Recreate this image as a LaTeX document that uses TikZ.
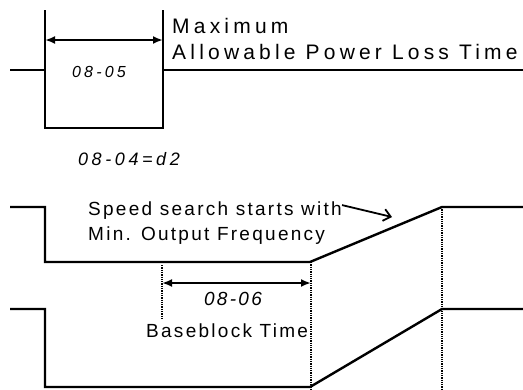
\documentclass[tikz,border=0pt]{standalone}
\usepackage{fontspec}
\setmainfont{Liberation Sans}
\newfontfamily\spacedsans[LetterSpace=12]{Liberation Sans}
\newfontfamily\widesans[LetterSpace=20]{Liberation Sans}
\usepackage{tikz}
\usetikzlibrary{arrows.meta}

\begin{document}
\begin{tikzpicture}[
  x=1pt, y=-1pt,
  sig/.style={line width=2.4pt, line join=miter},
  dim/.style={{Latex[length=10pt,width=8pt]}-{Latex[length=10pt,width=8pt]}, line width=2.6pt},
  guide/.style={densely dotted, line width=1.3pt},
  lbl/.style={inner sep=0pt, anchor=base west, font=\fontsize{19}{21}\spacedsans},
  code/.style={inner sep=0pt, anchor=base, font=\fontsize{15}{17}\spacedsans\itshape},
  pointer/.style={-{Straight Barb[length=7pt,width=12pt]}, line width=1.8pt},
]
\useasboundingbox (0,0) rectangle (523,389);
% Power loss signal
\coordinate (p0) at (10,70);  \coordinate (p1) at (45,70);
\coordinate (p2) at (45,10);  \coordinate (p3) at (45,128);
\coordinate (p4) at (163,128); \coordinate (p5) at (163,10);
\coordinate (p6) at (163,70); \coordinate (p7) at (523,70);
\draw[sig] (p0) -- (p1);
\draw[sig] (p2) -- (p3) -- (p4) -- (p5);
\draw[sig] (p6) -- (p7);
\draw[dim] (45,40) -- (163,40);
\node[code, font=\fontsize{16}{18}\widesans\itshape] (lossT) at (99,77) {08-05};
\node[lbl, font=\fontsize{21}{23}\widesans] (maxA) at (172,33) {Maximum};
\node[lbl, font=\fontsize{21}{23}\widesans] (maxB) at (172,59) {Allowable Power Loss Time};
\node[code, font=\fontsize{18}{20}\widesans\itshape] (mode) at (129,165) {08-04=d2};
% Output frequency
\coordinate (f0) at (10,207);  \coordinate (f1) at (45,207);
\coordinate (f2) at (45,262);  \coordinate (f3) at (310,262);
\coordinate (f4) at (442,207); \coordinate (f5) at (523,207);
\draw[sig] (f0) -- (f1) -- (f2) -- (f3) -- (f4) -- (f5);
\node[lbl] (srchA) at (88,215) {Speed search starts with};
\node[lbl] (srchB) at (88,240) {Min. Output Frequency};
\coordinate (tip) at (392,217);
\draw[pointer] (srchA.east) ++(0,-5) coordinate (tail) -- (tip);
% Output voltage
\coordinate (v0) at (10,309);  \coordinate (v1) at (45,309);
\coordinate (v2) at (45,387);  \coordinate (v3) at (310,387);
\coordinate (v4) at (442,309); \coordinate (v5) at (523,309);
\draw[sig] (v0) -- (v1) -- (v2) -- (v3) -- (v4) -- (v5);
% Baseblock time
\draw[guide] (162,265) -- (162,320);
\draw[guide] (311,262) -- (311,389);
\draw[guide] (442,207) -- (442,389);
\draw[dim] (162,283) -- (311,283);
\node[code, font=\fontsize{19}{21}\spacedsans\itshape] (bbT) at (233,305) {08-06};
\node[lbl] (bbL) at (146,337) {Baseblock Time};
\end{tikzpicture}
\end{document}
